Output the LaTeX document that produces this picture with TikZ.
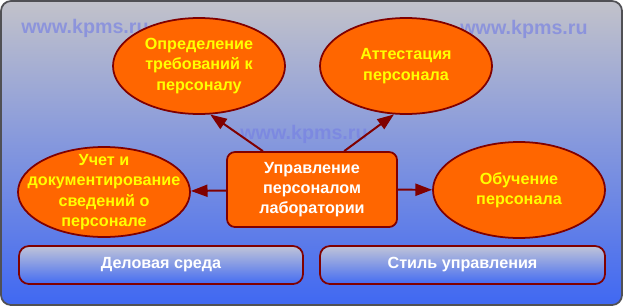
\documentclass[tikz,border=0pt]{standalone}
\usepackage{fontspec}
\setmainfont{Liberation Sans}
\usetikzlibrary{shapes.geometric,arrows.meta}

\definecolor{kporange}{RGB}{255,102,0}
\definecolor{kpred}{RGB}{128,0,0}
\definecolor{kpyellow}{RGB}{255,255,0}
\definecolor{kpframe}{RGB}{80,80,84}
\definecolor{kpbgtop}{RGB}{194,194,202}
\definecolor{kpbgbot}{RGB}{64,104,242}
\definecolor{kpbartop}{RGB}{192,196,216}
\definecolor{kpbarbot}{RGB}{68,108,242}
\definecolor{kpmark}{RGB}{118,128,228}

\begin{document}
\begin{tikzpicture}[
    x=0.03cm, y=-0.03cm,
    every node/.style={font=\bfseries\fontsize{13.8}{17.4}\selectfont},
    goal/.style={ellipse, draw=kpred, fill=kporange, line width=1.5pt, minimum width=5.16cm, minimum height=2.88cm, inner sep=0pt},
    goaltext/.style={text=kpyellow, align=center},
    core/.style={rectangle, rounded corners=0.24cm, draw=kpred, fill=kporange, line width=1.5pt, minimum width=5.1cm, minimum height=2.25cm, text=white, align=center},
    base/.style={rectangle, rounded corners=0.3cm, draw=kpred, line width=1.5pt, top color=kpbartop, bottom color=kpbarbot, minimum height=1.14cm, text=white},
    wmark/.style={font=\bfseries\fontsize{16.8}{20}\selectfont, text=kpmark, text opacity=0.65},
    link/.style={-{Triangle[length=5mm,width=3.6mm]}, draw=kpred, line width=1.7pt}
]

\useasboundingbox (0,0) rectangle (624,307);

% background panel
\shadedraw[top color=kpbgtop, bottom color=kpbgbot, draw=kpframe, line width=1.5pt, rounded corners=0.3cm] (1,1) rectangle (622,305);

% watermarks
\node[wmark] (wm1) at (85,28) {www.kpms.ru};
\node[wmark] (wm2) at (304,134) {www.kpms.ru};
\node[wmark] (wm3) at (524,29) {www.kpms.ru};

% nodes
\node[core] (mgmt) at (312,189.5) {Управление\\персоналом\\лаборатории};
\node[goal, label={[goaltext]center:Определение\\требований к\\персоналу}] (req) at (199,66) {};
\node[goal, label={[goaltext]center:Аттестация\\персонала}] (cert) at (406,66) {};
\node[goal, minimum height=2.7cm, label={[goaltext]center:Учет и\\документирование\\сведений о\\персонале}] (rec) at (104,192) {};
\node[goal, label={[goaltext]center:Обучение\\персонала}] (edu) at (519,190) {};

\node[base, minimum width=8.52cm] (biz) at (161,265) {Деловая среда};
\node[base, minimum width=8.55cm] (style) at (462.5,265) {Стиль управления};

% links
\draw[link] (mgmt.142.6) -- (req.-77);
\draw[link] (mgmt.50.4) -- (cert.-104);
\draw[link] (mgmt) -- (rec);
\draw[link] (mgmt) -- (edu);

\end{tikzpicture}
\end{document}
